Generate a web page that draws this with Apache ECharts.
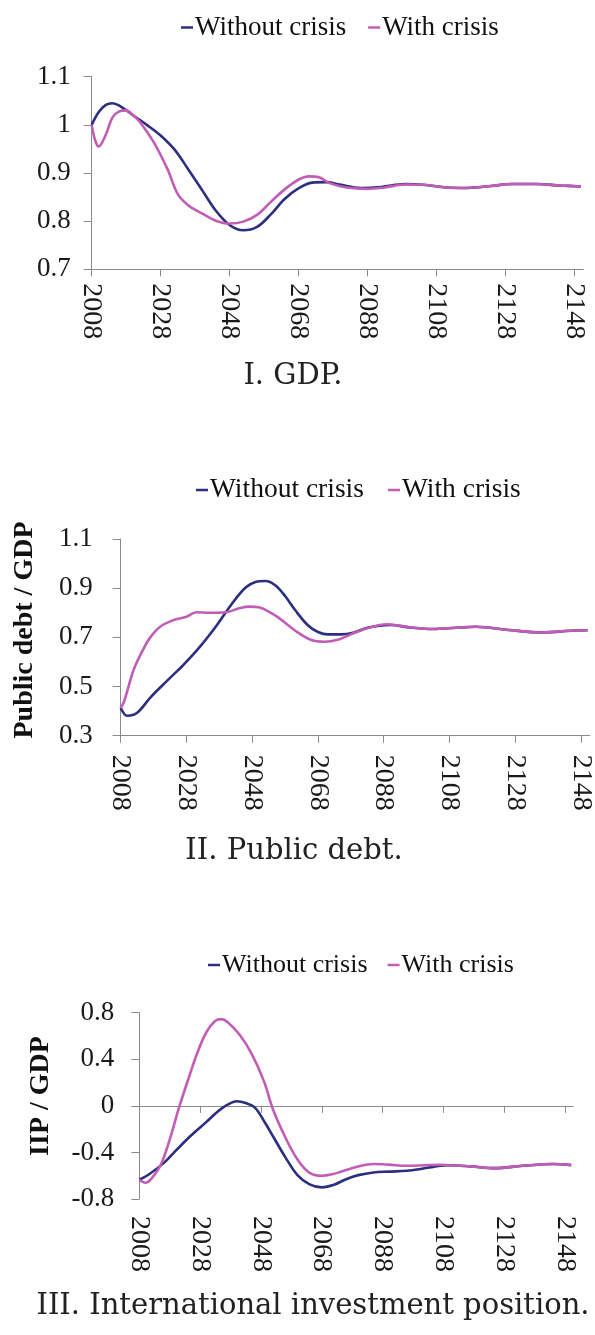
<!DOCTYPE html>
<html><head><meta charset="utf-8">
<script src="https://cdn.jsdelivr.net/npm/echarts@6/dist/echarts.min.js"></script>
<style>html,body{margin:0;padding:0;background:#fff}#c{width:595px;height:1335px}</style>
</head><body><div id="c"></div>
<script>
// ---------------- data ----------------
const BASE_YEAR = 2008;
const xTickYears = [2008, 2028, 2048, 2068, 2088, 2108, 2128, 2148];
const seriesNames = ['Without crisis', 'With crisis'];
const panelTitles = ['I. GDP.', 'II. Public debt.', 'III. International investment position.'];
const yAxisNames = ['', 'Public debt / GDP', 'IIP / GDP'];

const gdpTicks = [0.7, 0.8, 0.9, 1.0, 1.1];
const debtTicks = [0.3, 0.5, 0.7, 0.9, 1.1];
const iipTicks = [-0.8, -0.4, 0, 0.4, 0.8];

// Panel I: GDP
const gdpYearsWithout = [2008, 2010, 2012, 2014, 2016, 2020, 2024, 2028, 2032, 2036, 2040, 2044, 2048, 2052, 2056, 2060, 2064, 2068, 2072, 2076, 2080, 2086, 2092, 2099, 2105, 2111, 2117, 2124, 2130, 2137, 2144, 2150];
const gdpWithout = [1.000, 1.026, 1.041, 1.045, 1.040, 1.020, 1.000, 0.978, 0.949, 0.908, 0.865, 0.822, 0.792, 0.781, 0.788, 0.814, 0.846, 0.868, 0.880, 0.881, 0.876, 0.869, 0.871, 0.877, 0.875, 0.870, 0.869, 0.873, 0.877, 0.877, 0.874, 0.872];
const gdpYearsWith = [2008, 2009, 2010, 2012, 2014, 2016, 2018, 2020, 2022, 2026, 2030, 2033, 2036, 2040, 2044, 2048, 2052, 2056, 2060, 2064, 2068, 2071, 2074, 2077, 2082, 2088, 2093, 2099, 2105, 2111, 2117, 2124, 2130, 2137, 2144, 2150];
const gdpWith = [1.000, 0.968, 0.955, 0.978, 1.015, 1.028, 1.030, 1.020, 1.006, 0.964, 0.908, 0.856, 0.833, 0.816, 0.801, 0.795, 0.799, 0.813, 0.840, 0.866, 0.886, 0.893, 0.891, 0.879, 0.870, 0.867, 0.870, 0.876, 0.875, 0.870, 0.869, 0.873, 0.877, 0.877, 0.874, 0.872];

// Panel II: Public debt / GDP
const debtYearsWithout = [2008, 2010, 2013, 2017, 2022, 2027, 2032, 2037, 2042, 2046, 2049, 2052, 2055, 2058, 2061, 2065, 2068, 2071, 2075, 2079, 2083, 2090, 2096, 2103, 2110, 2116, 2126, 2136, 2146, 2150];
const debtWithout = [0.414, 0.381, 0.393, 0.455, 0.522, 0.587, 0.660, 0.745, 0.840, 0.903, 0.925, 0.929, 0.912, 0.868, 0.812, 0.748, 0.722, 0.712, 0.712, 0.720, 0.739, 0.750, 0.740, 0.734, 0.739, 0.743, 0.730, 0.720, 0.728, 0.729];
const debtYearsWith = [2008, 2009, 2012, 2015, 2017, 2020, 2024, 2028, 2031, 2035, 2040, 2044, 2047, 2050, 2053, 2056, 2061, 2066, 2070, 2074, 2078, 2083, 2089, 2096, 2103, 2110, 2116, 2126, 2136, 2146, 2150];
const debtWith = [0.414, 0.438, 0.570, 0.655, 0.700, 0.743, 0.770, 0.784, 0.802, 0.800, 0.802, 0.818, 0.825, 0.822, 0.805, 0.780, 0.728, 0.689, 0.682, 0.690, 0.712, 0.737, 0.753, 0.741, 0.734, 0.739, 0.743, 0.730, 0.720, 0.728, 0.729];

// Panel III: IIP / GDP
const iipYearsWithout = [2008, 2011, 2016, 2020, 2025, 2030, 2034, 2037, 2040, 2043, 2046, 2049, 2052, 2056, 2060, 2064, 2068, 2072, 2076, 2080, 2085, 2090, 2096, 2101, 2105, 2110, 2117, 2125, 2134, 2144, 2150];
const iipWithout = [-0.635, -0.592, -0.492, -0.385, -0.255, -0.140, -0.045, 0.010, 0.040, 0.025, -0.015, -0.130, -0.263, -0.440, -0.595, -0.675, -0.700, -0.678, -0.630, -0.595, -0.572, -0.565, -0.558, -0.540, -0.522, -0.510, -0.520, -0.535, -0.515, -0.500, -0.509];
const iipYearsWith = [2008, 2010, 2012, 2015, 2018, 2021, 2024, 2027, 2030, 2033, 2035, 2037, 2041, 2045, 2049, 2052, 2056, 2060, 2064, 2068, 2071, 2075, 2080, 2085, 2090, 2096, 2102, 2107, 2110, 2117, 2125, 2134, 2144, 2150];
const iipWith = [-0.635, -0.660, -0.625, -0.510, -0.290, -0.020, 0.220, 0.450, 0.630, 0.730, 0.745, 0.720, 0.610, 0.445, 0.210, -0.034, -0.270, -0.460, -0.575, -0.600, -0.590, -0.560, -0.520, -0.500, -0.505, -0.515, -0.510, -0.506, -0.510, -0.520, -0.535, -0.515, -0.500, -0.509];

// ---------------- chart ----------------
const BLUE = '#2c2e80';
const PINK = '#c15db7';
const AXIS = '#8a8a8a';
const SERIF = '"Liberation Serif", "Times New Roman", serif';
const TITLE_FONT = '"DejaVu Serif", serif';

const pts = (years, vals) => years.map((y, i) => [y - BASE_YEAR, vals[i]]);
const xTickOffsets = xTickYears.map(y => y - BASE_YEAR);
const X_MAX = 142.7;

const grids = [
  { left: 91.7, top: 76.7, width: 491.6, height: 192.6 },
  { left: 120.7, top: 539, width: 469.3, height: 196.7 },
  { left: 139.3, top: 1012.7, width: 434, height: 186.3 }
];

function xAxisLabeled(gridIndex, margin) {
  return {
    type: 'value', gridIndex, min: 0, max: X_MAX, position: 'bottom',
    axisLine: { show: true, onZero: false, lineStyle: { color: AXIS, width: 1 } },
    axisTick: { show: true, length: 7, lineStyle: { color: AXIS }, customValues: xTickOffsets },
    axisLabel: {
      customValues: xTickOffsets, rotate: -90, margin,
      fontFamily: SERIF, fontSize: 28, color: '#1a1a1a',
      formatter: v => String(Math.round(v) + BASE_YEAR)
    },
    splitLine: { show: false }
  };
}
function yAxisDef(gridIndex, ticks, margin) {
  return {
    type: 'value', gridIndex, min: ticks[0], max: ticks[ticks.length - 1],
    axisLine: { show: true, onZero: false, lineStyle: { color: AXIS, width: 1 } },
    axisTick: { show: true, length: 8, lineStyle: { color: AXIS }, customValues: ticks },
    axisLabel: {
      customValues: ticks, margin, fontFamily: SERIF, fontSize: 27, color: '#1a1a1a',
      formatter: v => String(Math.round(v * 10) / 10)
    },
    splitLine: { show: false }
  };
}

const xAxes = [
  xAxisLabeled(0, 14),
  xAxisLabeled(1, 19),
  // panel III: zero line with ticks, no labels
  {
    type: 'value', gridIndex: 2, min: 0, max: X_MAX, position: 'bottom',
    axisLine: { show: true, onZero: true, lineStyle: { color: AXIS, width: 1 } },
    axisTick: { show: true, length: 7, lineStyle: { color: AXIS }, customValues: xTickOffsets },
    axisLabel: { show: false },
    splitLine: { show: false }
  },
  // panel III: labels at bottom
  {
    type: 'value', gridIndex: 2, min: 0, max: X_MAX, position: 'bottom',
    axisLine: { show: false, onZero: false },
    axisTick: { show: false },
    axisLabel: {
      customValues: xTickOffsets, rotate: -90, margin: 17,
      fontFamily: SERIF, fontSize: 28, color: '#1a1a1a',
      formatter: v => String(Math.round(v) + BASE_YEAR)
    },
    splitLine: { show: false }
  }
];
const yAxes = [yAxisDef(0, gdpTicks, 21), yAxisDef(1, debtTicks, 28), yAxisDef(2, iipTicks, 25)];

function lineSeries(name, data, xi, yi, color) {
  return {
    type: 'line', name, data, xAxisIndex: xi, yAxisIndex: yi,
    showSymbol: false, symbol: 'none', smooth: 0.35,
    lineStyle: { color, width: 2.6 }, itemStyle: { color },
    animation: false
  };
}

const series = [
  lineSeries(seriesNames[0], pts(gdpYearsWithout, gdpWithout), 0, 0, BLUE),
  lineSeries(seriesNames[1], pts(gdpYearsWith, gdpWith), 0, 0, PINK),
  lineSeries(seriesNames[0], pts(debtYearsWithout, debtWithout), 1, 1, BLUE),
  lineSeries(seriesNames[1], pts(debtYearsWith, debtWith), 1, 1, PINK),
  lineSeries(seriesNames[0], pts(iipYearsWithout, iipWithout), 2, 2, BLUE),
  lineSeries(seriesNames[1], pts(iipYearsWith, iipWith), 2, 2, PINK)
];

function legendDef(left, top, fontSize, gap) {
  return {
    data: seriesNames, left, top, orient: 'horizontal',
    icon: 'rect', itemWidth: 12, itemHeight: 2.5, itemGap: gap,
    textStyle: { fontFamily: SERIF, fontSize, color: '#111', padding: [0, 0, 0, -3] },
    selectedMode: false
  };
}

const titlePos = [[293, 376], [294, 851], [313, 1306]];
const graphics = panelTitles.map((t, i) => ({
  type: 'text', x: titlePos[i][0], y: titlePos[i][1],
  style: { text: t, font: '29px ' + TITLE_FONT, fill: '#222', align: 'center', verticalAlign: 'middle' }
}));
const namePos = [null, [25, 630], [41, 1096]];
yAxisNames.forEach((n, i) => {
  if (!n) return;
  graphics.push({
    type: 'text', x: namePos[i][0], y: namePos[i][1], rotation: Math.PI / 2,
    style: { text: n, font: 'bold 28px ' + SERIF, fill: '#111', align: 'center', verticalAlign: 'middle' }
  });
});

const chart = echarts.init(document.getElementById('c'), null, { renderer: 'canvas' });
chart.setOption({
  backgroundColor: '#ffffff',
  animation: false,
  grid: grids,
  xAxis: xAxes,
  yAxis: yAxes,
  legend: [legendDef(176, 9, 27, 22), legendDef(191, 471, 27.5, 24), legendDef(203, 947, 26, 20)],
  series,
  graphic: graphics
});
</script></body></html>
